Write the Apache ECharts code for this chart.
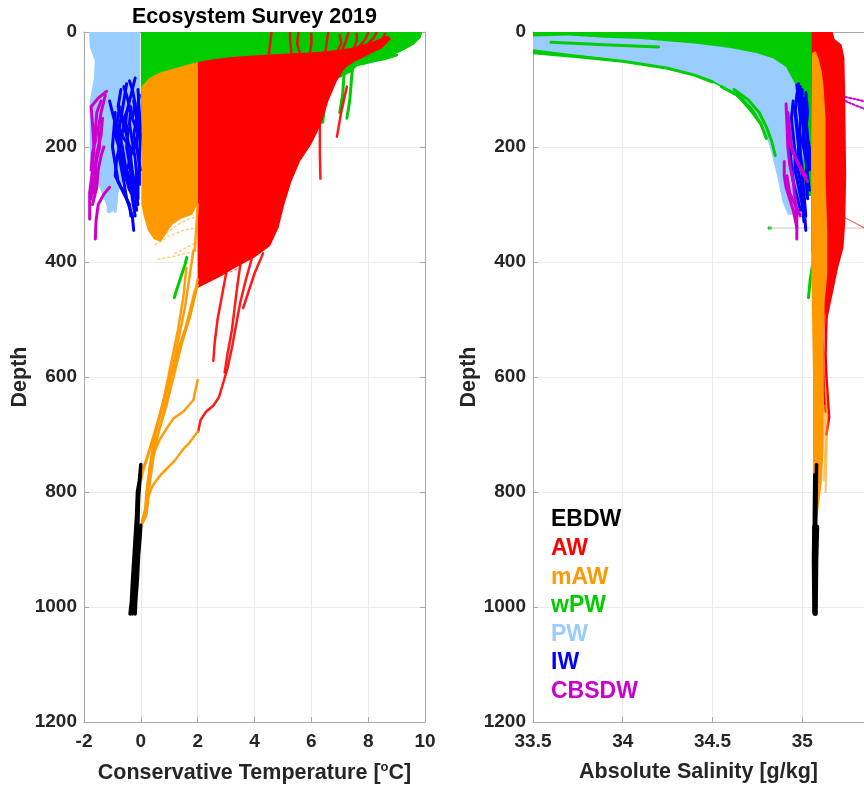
<!DOCTYPE html>
<html><head><meta charset="utf-8">
<script src="https://cdn.jsdelivr.net/npm/echarts@6/dist/echarts.min.js"></script>
<style>html,body{margin:0;padding:0;background:#fff}#c{width:864px;height:785px}</style>
</head><body><div id="c"></div>
<script>
// ===== labels / categories =====
const titleText = 'Ecosystem Survey 2019';
const waterMasses = ['EBDW','AW','mAW','wPW','PW','IW','CBSDW'];
const massColors = ['#000000','#ff0000','#ff9900','#00cc00','#99ccff','#0000ff','#cc00cc'];
const depthTicks = [0,200,400,600,800,1000,1200];
const tempTicks = [-2,0,2,4,6,8,10];
const salTicks = [33.5,34,34.5,35];
const salVisibleMax = 35.3443; // right panel is cut by the image edge (axis runs to ~35.4)

// ===== Temperature panel: [T, depth] =====
const wpwTempCloud = [[0,0],[9.9,0],[9.85,10],[9.6,22],[9.2,33],[8.7,44],[8.1,53],[7.6,60],[7.4,70],[7.0,80],[6.0,75],[4.0,62],[2.0,62],[1.5,80],[1.0,95],[0.5,110],[0.2,140],[0.03,170],[0,170]];
const wpwTempLines = [
 [[7.45,62],[7.4,90],[7.35,120],[7.25,150]],
 [[7.15,75],[7.1,110],[7.0,140]],
 [[6.5,110],[6.45,135],[6.4,157]],
 [[9.0,40],[8.6,46],[8.2,50],[7.8,55]],
 [[1.62,392],[1.55,405],[1.45,420],[1.35,435],[1.25,450],[1.18,462]]
];
const pwTempCloud = [[-1.82,0],[-0.03,0],[-0.03,150],[-0.2,200],[-0.5,240],[-0.8,280],[-0.9,310],[-1.1,315],[-1.3,290],[-1.5,265],[-1.75,250],[-1.8,200],[-1.8,120],[-1.65,80],[-1.62,50],[-1.8,25]];
const pwTempLines = [
 [[-1.0,200],[-1.05,240],[-1.1,280],[-1.15,312]],
 [[-0.8,250],[-0.85,285],[-0.9,312]]
];
const awTempCloud = [[2.0,52],[2.6,47],[3.3,43],[4.2,40],[5.0,38],[5.8,36],[6.6,33],[7.4,28],[8.1,18],[8.7,6],[8.8,12],[8.5,28],[8.0,40],[7.5,52],[7.2,62],[6.9,85],[6.6,120],[6.35,160],[6.0,195],[5.6,225],[5.3,260],[5.05,300],[4.85,340],[4.55,372],[4.0,392],[3.4,408],[2.8,425],[2.3,438],[2.0,445]];
const awTempLines = [
 [[4.6,0],[4.55,20],[4.5,40]],
 [[5.25,0],[5.25,15],[5.3,38]],
 [[5.55,0],[5.5,20],[5.6,38]],
 [[6.0,3],[6.0,20],[5.95,38]],
 [[6.6,0],[6.55,15],[6.5,33]],
 [[7.0,5],[7.05,20],[6.9,35]],
 [[7.3,2],[7.2,18],[7.1,30]],
 [[7.6,3],[7.6,15],[7.5,28]],
 [[8.0,2],[7.9,12],[7.7,25]],
 [[8.3,0],[8.2,10],[8.0,20]],
 [[8.6,3],[8.5,12],[8.3,22]],
 [[6.3,160],[6.3,210],[6.32,255]],
 [[7.25,95],[7.05,140],[6.9,182]],
 [[3.9,395],[3.7,430],[3.5,470],[3.35,510],[3.2,550],[3.05,585],[2.9,610],[2.75,635],[2.55,650],[2.3,660],[2.1,675],[2.02,695]],
 [[3.5,405],[3.4,440],[3.3,480],[3.2,520],[3.05,560],[2.95,592]],
 [[3.0,420],[2.85,460],[2.7,500],[2.6,540],[2.55,572]],
 [[4.3,385],[4.0,420],[3.8,450],[3.6,480]]
];
const awTempFaint = [[[2.0,440],[2.5,430],[3.0,420],[3.4,412]]];
const mawTempCloud = [[0.02,95],[0.3,80],[0.7,70],[1.2,63],[1.7,56],[2.0,52],[2.0,300],[1.8,318],[1.4,325],[1.1,335],[0.9,350],[0.7,365],[0.45,360],[0.25,345],[0.1,320],[0.02,300]];
const mawTempLines = [
 [[2.0,440],[1.7,500],[1.3,560],[1.0,610],[0.7,660],[0.4,710],[0.15,750],[0.0,770]],
 [[1.9,450],[1.6,510],[1.2,570],[0.85,630],[0.55,690],[0.3,730],[0.1,760],[0.0,780]],
 [[2.0,430],[1.75,490],[1.45,540],[1.15,600],[0.9,650],[0.6,700],[0.35,750],[0.2,800],[0.15,830],[0.0,860]],
 [[1.6,410],[1.5,460],[1.3,520],[1.05,580],[0.8,640],[0.5,700],[0.3,760],[0.25,820],[0.05,850]],
 [[1.85,380],[1.7,430],[1.55,480],[1.3,540],[1.1,590],[0.95,630],[0.75,670],[0.5,720],[0.3,790]],
 [[2.0,605],[1.85,640],[1.5,660],[1.15,672],[0.9,690],[0.65,710],[0.4,740],[0.25,780],[0.2,810]],
 [[2.0,695],[1.7,715],[1.5,725],[1.2,745],[1.0,755],[0.7,770],[0.4,790],[0.25,810],[0.2,840],[0.05,855]],
 [[2.0,300],[1.95,340],[1.9,380]]
];
const mawTempFaint = [
 [[0.9,350],[1.3,335],[1.7,325],[2.0,320]],
 [[0.5,370],[1.0,355],[1.5,345],[2.0,340]],
 [[1.2,385],[1.6,375],[2.0,365]],
 [[0.6,395],[1.2,390],[2.0,380]]
];
const iwTempLines = [
 [[-0.5,90],[-0.6,120],[-0.7,150],[-0.8,180],[-0.75,220],[-0.6,260],[-0.5,290],[-0.3,320],[-0.25,345]],
 [[-0.2,80],[-0.35,110],[-0.5,140],[-0.55,170],[-0.4,200],[-0.3,240],[-0.2,270],[-0.1,300]],
 [[-0.9,140],[-0.95,170],[-1.0,200],[-0.9,230],[-0.8,260],[-0.6,280],[-0.4,300],[-0.35,320]],
 [[-0.1,100],[-0.05,140],[-0.02,180],[-0.05,220],[-0.1,260],[-0.1,290]],
 [[-0.7,100],[-0.8,130],[-0.6,160],[-0.7,190],[-0.85,220],[-0.9,250],[-0.7,270],[-0.5,290]],
 [[-0.35,130],[-0.4,160],[-0.3,190],[-0.2,220],[-0.15,250],[-0.2,280],[-0.15,310]],
 [[-1.1,120],[-0.95,150],[-0.8,170],[-0.65,200],[-0.55,230],[-0.45,260],[-0.35,280]],
 [[-0.6,95],[-0.5,110],[-0.4,130],[-0.6,150],[-0.45,170],[-0.5,200],[-0.4,230],[-0.3,260],[-0.25,300]],
 [[-0.25,120],[-0.15,150],[-0.25,180],[-0.1,210],[-0.02,240]],
 [[-0.85,160],[-0.6,185],[-0.3,205],[-0.45,235],[-0.6,250]],
 [[-0.4,85],[-0.3,100],[-0.2,125],[-0.3,150],[-0.1,175],[-0.2,200]],
 [[-0.75,130],[-0.9,180],[-0.7,210],[-0.55,250],[-0.4,275]],
 [[-0.05,110],[-0.15,140],[-0.1,170],[-0.15,200],[-0.05,230],[-0.05,265]],
 [[-0.65,225],[-0.45,245],[-0.35,265],[-0.3,290],[-0.2,320]]
];
const cbsdwTempLines = [
 [[-1.2,103],[-1.5,115],[-1.75,130],[-1.7,160],[-1.65,200],[-1.7,240],[-1.8,280],[-1.8,325]],
 [[-1.25,110],[-1.4,140],[-1.5,170],[-1.45,200],[-1.6,230],[-1.7,260],[-1.75,290]],
 [[-1.35,150],[-1.4,180],[-1.55,210],[-1.6,250],[-1.65,280]],
 [[-1.1,270],[-1.3,282],[-1.5,300],[-1.58,330],[-1.6,360]],
 [[-1.3,200],[-1.4,215],[-1.5,240],[-1.55,270],[-1.7,300]],
 [[-1.4,120],[-1.55,140],[-1.6,170],[-1.6,190],[-1.7,210],[-1.75,240]]
];
const ebdwTempLines = [
 [[0,752],[-0.05,780],[-0.12,800],[-0.15,840],[-0.2,880],[-0.25,920],[-0.3,960],[-0.33,990],[-0.38,1012]],
 [[-0.02,770],[-0.08,810],[-0.1,850],[-0.15,890],[-0.22,930],[-0.27,970],[-0.3,1012]],
 [[0.0,858],[-0.03,880],[-0.08,910],[-0.12,950],[-0.18,990],[-0.2,1012]],
 [[-0.05,860],[-0.1,900],[-0.15,940],[-0.2,980],[-0.25,1010]]
];

// ===== Salinity panel: [S, depth] =====
const wpwSalCloud = [[33.5,0],[35.05,0],[35.05,285],[34.98,285],[34.92,270],[34.87,260],[34.85,230],[34.82,195],[34.76,160],[34.7,135],[34.62,108],[34.5,88],[34.4,76],[34.25,64],[34.0,52],[33.75,44],[33.5,37]];
const pwSalCloud = [[33.5,8],[33.7,6],[33.9,10],[34.1,12],[34.4,20],[34.6,28],[34.75,37],[34.84,46],[34.91,61],[34.96,90],[35.0,119],[35.01,200],[34.99,300],[34.95,318],[34.92,318],[34.89,295],[34.86,250],[34.82,200],[34.77,160],[34.7,128],[34.6,102],[34.5,84],[34.35,70],[34.1,55],[33.9,45],[33.7,38],[33.5,30]];
const wpwSalLines = [
 [[33.5,36],[33.75,43],[34.0,51],[34.25,63],[34.4,75],[34.5,87]],
 [[34.55,95],[34.65,112],[34.72,135],[34.77,160],[34.8,185]],
 [[34.62,100],[34.7,118],[34.76,140],[34.8,165],[34.83,190],[34.85,215]],
 [[33.55,2],[33.8,3],[34.0,4]],
 [[33.6,18],[33.9,22],[34.2,26]],
 [[35.07,392],[35.055,410],[35.045,430],[35.035,462]],
 [[34.815,341],[34.825,341]]
];
const awSalCloud = [[35.05,0],[35.17,0],[35.18,12],[35.22,22],[35.235,45],[35.24,120],[35.245,250],[35.24,330],[35.23,375],[35.2,410],[35.18,440],[35.16,470],[35.14,500],[35.12,480],[35.1,440],[35.07,400],[35.05,380]];
const awSalLines = [
 [[35.14,440],[35.135,500],[35.13,560],[35.135,600],[35.15,670],[35.135,700]],
 [[35.12,480],[35.115,550],[35.12,620],[35.13,660]],
 [[35.1,380],[35.09,420],[35.085,450]]
];
const awSalThin = [[[35.22,320],[35.3,333],[35.4,350]]];
const mawSalCloud = [[35.055,37],[35.075,33],[35.09,45],[35.11,70],[35.12,100],[35.13,150],[35.13,250],[35.14,350],[35.14,420],[35.125,470],[35.12,550],[35.12,650],[35.12,720],[35.11,780],[35.09,830],[35.075,865],[35.065,865],[35.06,780],[35.06,700],[35.06,600],[35.055,500],[35.05,400],[35.05,200]];
const mawSalLines = [
 [[35.13,620],[35.14,680],[35.135,740],[35.13,800]],
 [[35.125,650],[35.13,720],[35.12,780]]
];
const iwSalLines = [
 [[34.98,90],[34.97,110],[34.96,140],[34.97,170],[34.98,200],[34.97,230],[34.99,260],[35.01,300],[35.02,345]],
 [[35.0,100],[35.0,130],[35.01,160],[35.0,190],[35.02,220],[35.03,250],[35.04,275]],
 [[34.95,120],[34.94,150],[34.95,180],[34.96,210],[34.96,240],[34.98,270],[35.0,300],[35.01,330]],
 [[35.02,105],[35.03,140],[35.02,170],[35.04,200],[35.04,240]],
 [[34.96,130],[34.97,160],[34.98,190],[34.99,220],[35.0,250],[35.01,280],[35.02,320]],
 [[34.93,170],[34.93,200],[34.94,230],[34.95,260],[34.97,285],[34.99,310]],
 [[34.99,95],[34.985,125],[35.0,150],[35.01,180],[35.02,210]],
 [[34.97,92],[34.98,120],[34.99,150],[34.985,180],[34.99,210],[35.0,240]],
 [[35.01,115],[35.02,150],[35.03,180],[35.03,215],[35.02,250],[35.03,290]]
];
const cbsdwSalLines = [
 [[34.91,125],[34.915,160],[34.92,200],[34.93,230],[34.95,260],[34.96,290],[34.97,320],[34.97,360]],
 [[34.92,140],[34.93,170],[34.94,200],[34.97,225],[35.0,245],[35.03,260]],
 [[34.9,225],[34.9,250],[34.91,270],[34.93,290],[34.95,310],[34.97,340]],
 [[34.93,190],[34.95,210],[34.98,230],[35.02,250]],
 [[34.915,250],[34.93,280],[34.96,300],[34.99,320]]
];
const cbsdwSalDotted = [
 [[35.24,113],[35.3,117],[35.4,125]],
 [[35.24,120],[35.3,128],[35.4,140]]
];
const graySalLines = [[[34.82,341],[35.4,341]]];
const ebdwSalLines = [
 [[35.08,752],[35.078,800],[35.075,860],[35.073,920],[35.072,980],[35.073,1012]],
 [[35.07,770],[35.068,830],[35.066,900],[35.067,960],[35.068,1012]],
 [[35.085,860],[35.08,920],[35.078,980],[35.077,1012]],
 [[35.065,860],[35.063,920],[35.065,980],[35.066,1010]]
];

// ===== helpers =====
const FONT = '"Liberation Sans", Arial, sans-serif';
const C = Object.fromEntries(waterMasses.map((m,i)=>[m, massColors[i]]));
function cloud(gi, pts, color, opacity){
  return {type:'custom', xAxisIndex: gi*2, yAxisIndex: gi*2, silent:true, animation:false, clip:true,
    data:[[pts[0][0], pts[0][1]]],
    renderItem:(params, api)=>({type:'polygon', shape:{points: pts.map(p=>api.coord(p))},
      style:{fill: color, opacity: opacity==null?1:opacity}})};
}
function lines(gi, profs, color, width, opacity, dash){
  return {type:'custom', xAxisIndex: gi*2, yAxisIndex: gi*2, silent:true, animation:false, clip:true,
    dimensions:['x','y','i'], encode:{x:0,y:1},
    data: profs.map((p,i)=>[p[0][0], p[0][1], i]),
    renderItem:(params, api)=>{ const p = profs[api.value(2)];
      return {type:'polyline', shape:{points: p.map(q=>api.coord(q))},
        style:{stroke: color, lineWidth: width, opacity: opacity==null?1:opacity, fill:null,
          lineDash: dash||null, lineCap:'round', lineJoin:'round'}}; }};
}
const axisCol = '#a8a8a8';
const labelStyle = {color:'#262626', fontSize:19, fontWeight:'bold', fontFamily:FONT};
function xAx(gi, min, max, interval, bottom, extra){
  return Object.assign({type:'value', gridIndex: gi, min, max, interval, position: bottom?'bottom':'top',
    axisLine:{show:true, onZero:false, lineStyle:{color:axisCol, width:1}},
    axisTick:{show:true, inside:true, length:5, lineStyle:{color:axisCol}},
    axisLabel: bottom ? Object.assign({margin:10, formatter: v=>String(v)}, labelStyle) : {show:false},
    splitLine:{show: bottom, lineStyle:{color:'#ebebeb', width:1}}}, extra||{});
}
function yAx(gi, left, hideLine){
  return {type:'value', gridIndex: gi, min:depthTicks[0], max:depthTicks[depthTicks.length-1], interval:200, inverse:true, position: left?'left':'right',
    axisLine:{show:!hideLine, onZero:false, lineStyle:{color:axisCol, width:1}},
    axisTick:{show:!hideLine, inside:true, length:5, lineStyle:{color:axisCol}},
    axisLabel: left ? Object.assign({margin:7, formatter: v=>String(v)}, labelStyle) : {show:false},
    splitLine:{show:left, lineStyle:{color:'#ebebeb', width:1}},
    name: left ? 'Depth' : '', nameLocation:'middle', nameGap:46,
    nameTextStyle:{color:'#262626', fontSize:21.5, fontWeight:'bold', fontFamily:FONT}};
}
const nameStyle = {color:'#262626', fontSize:21.5, fontWeight:'bold', fontFamily:FONT,
  rich:{a:{color:'#262626', fontSize:21.5, fontWeight:'bold', fontFamily:FONT},
        s:{color:'#262626', fontSize:13, fontWeight:'bold', fontFamily:FONT, padding:[0,0,12,0]}}};

const series = [
  cloud(0, wpwTempCloud, C.wPW), cloud(0, pwTempCloud, C.PW),
  lines(0, pwTempLines, C.PW, 3),
  lines(0, wpwTempLines, C.wPW, 3),
  cloud(0, awTempCloud, C.AW),
  lines(0, awTempLines, C.AW, 2.5, 0.9),
  lines(0, awTempFaint, C.AW, 1.5, 0.45, [2,3]),
  cloud(0, mawTempCloud, C.mAW),
  lines(0, mawTempLines, C.mAW, 2.5, 0.95),
  lines(0, mawTempFaint, C.mAW, 1.5, 0.5, [2,3]),
  lines(0, iwTempLines, C.IW, 3),
  lines(0, cbsdwTempLines, C.CBSDW, 3),
  lines(0, ebdwTempLines, C.EBDW, 3.5),

  cloud(1, wpwSalCloud, C.wPW), cloud(1, pwSalCloud, C.PW),
  lines(1, wpwSalLines, C.wPW, 3),
  lines(1, graySalLines, '#c8c8c8', 1),
  cloud(1, awSalCloud, C.AW),
  lines(1, awSalLines, C.AW, 2.5),
  lines(1, awSalThin, C.AW, 1.2, 0.6),
  cloud(1, mawSalCloud, C.mAW),
  lines(1, mawSalLines, C.mAW, 2, 0.6),
  lines(1, iwSalLines, C.IW, 3),
  lines(1, cbsdwSalLines, C.CBSDW, 3),
  lines(1, cbsdwSalDotted, C.CBSDW, 2, 1, [2,2]),
  lines(1, ebdwSalLines, C.EBDW, 3.5)
];

const graphics = [
  {type:'text', x:254.5, y:17, z:10, style:{text:titleText, fill:'#000', font:'bold 21.5px '+FONT, align:'center', verticalAlign:'middle'}}
].concat(waterMasses.map((m,i)=>({type:'text', x:551, y:520 + i*28.6, z:10,
  style:{text:m, fill:massColors[i], font:'bold 23px '+FONT, align:'left', verticalAlign:'middle'}})));

const chart = echarts.init(document.getElementById('c'), null, {renderer:'canvas'});
chart.setOption({
  animation:false,
  backgroundColor:'#ffffff',
  grid:[{left:84, top:32, width:341, height:690, outerBoundsMode:'none', containLabel:false},
        {left:533, top:32, width:331, height:690, outerBoundsMode:'none', containLabel:false}],
  xAxis:[
    xAx(0, tempTicks[0], tempTicks[tempTicks.length-1], 2, true,
      {name:'{a|Conservative Temperature [}{s|o}{a|C]}', nameLocation:'middle', nameGap:39, nameTextStyle:nameStyle}),
    xAx(0, tempTicks[0], tempTicks[tempTicks.length-1], 2, false),
    xAx(1, salTicks[0], salVisibleMax, 0.5, true,
      {name:'Absolute Salinity [g/kg]', nameLocation:'middle', nameGap:39, nameTextStyle:nameStyle,
       axisLabel:Object.assign({margin:10, showMaxLabel:false, formatter: v=>String(v)}, labelStyle)}),
    xAx(1, salTicks[0], salVisibleMax, 0.5, false)
  ],
  yAxis:[yAx(0,true), yAx(0,false), yAx(1,true), yAx(1,false,true)],
  series,
  graphic: graphics
});
</script></body></html>
